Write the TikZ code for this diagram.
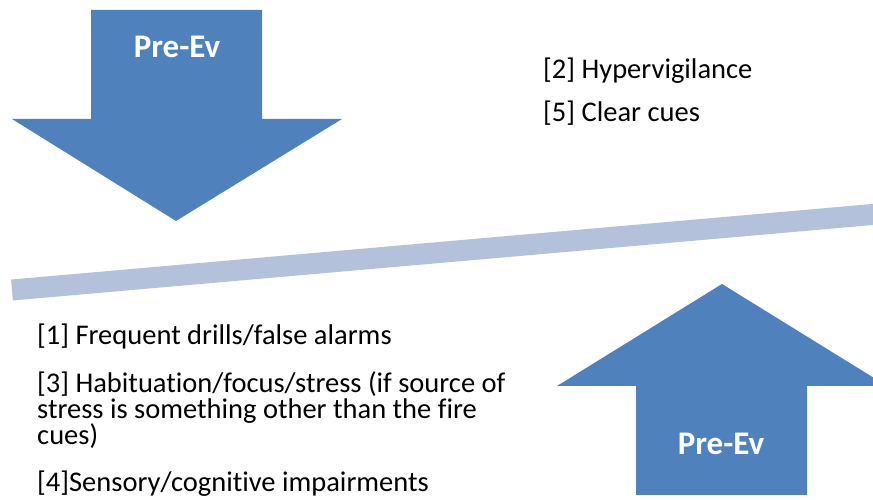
\documentclass[tikz,border=0pt]{standalone}
\usepackage{fontspec}
\setmainfont{Carlito}[Ligatures=NoCommon]
\usetikzlibrary{positioning}
\definecolor{arrowblue}{rgb}{0.31,0.506,0.741}
\definecolor{barblue}{rgb}{0.702,0.757,0.859}

\tikzset{
	cause/.style={anchor=base west,inner sep=0pt,text=black,font=\fontsize{28.5}{26}\selectfont,align=left},
	evlabel/.style={anchor=base,inner sep=0pt,text=white,font=\fontsize{33}{33}\selectfont\bfseries}
}

\begin{document}
\begin{tikzpicture}[line cap=butt,line join=miter,x=1pt,y=1pt]
	\useasboundingbox (0,0) rectangle (873,500);
	\clip (0,0) rectangle (873,500);
	% downward arrow
	\fill[color=arrowblue] (91,490) -- (262,490) -- (262,381) -- (342,381) -- (176,279) -- (12,381) -- (91,381) -- cycle;
	\node[evlabel] (evdown) at (177,442) {Pre-Ev};
	% upward arrow
	\fill[color=arrowblue] (636,5) -- (807,5) -- (807,114) -- (887,114) -- (722,216) -- (557,114) -- (636,114) -- cycle;
	\node[evlabel] (evup) at (721,45) {Pre-Ev};
	% the bar
	\draw[color=barblue,line width=21pt] (12,210) -- (900,287.9);
	% causes
	\node[cause] (hyper) at (543,421) {[2] Hypervigilance};
	\node[cause] (cues) at (543,378) {[5] Clear cues};
	\node[cause] (drills) at (37,155) {[1] Frequent drills/false alarms};
	\node[cause,anchor=north west] (habit) at (37,129) {[3] Habituation/focus/stress (if source of\\stress is something other than the fire\\cues)};
	\node[cause] (sensory) at (37,8) {[4]Sensory/cognitive impairments};
\end{tikzpicture}
\end{document}
